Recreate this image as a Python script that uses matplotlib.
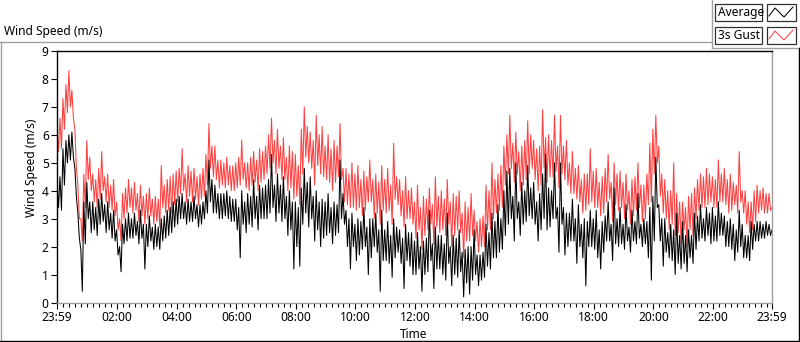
import numpy as np
import matplotlib
matplotlib.use('Agg')
import matplotlib.pyplot as plt
from matplotlib.lines import Line2D
from matplotlib.patches import Rectangle

plt.rcParams['font.family'] = ['Noto Sans', 'DejaVu Sans']

# readings per 6-minute slot from 23:59: top and bottom of each swing
gust_hi = [
    6.3, 6.6, 7.3, 7.8, 8.3, 7.6, 6.2, 4.2, 3.0, 4.6,
    5.8, 5.2, 4.6, 4.4, 4.8, 5.4, 4.5, 4.6, 4.2, 4.4,
    3.6, 3.0, 3.9, 4.1, 4.4, 4.1, 4.3, 3.9, 4.2, 3.8,
    3.9, 4.1, 3.7, 3.8, 3.7, 4.9, 4.2, 4.4, 4.5, 4.6,
    4.7, 4.8, 5.5, 4.6, 4.9, 4.7, 4.8, 4.5, 4.6, 4.8,
    5.3, 6.4, 5.6, 5.6, 5.1, 5.1, 5.0, 5.2, 4.9, 4.9,
    5.0, 5.2, 5.8, 5.0, 5.0, 5.2, 5.4, 5.1, 5.5, 5.4,
    5.6, 6.0, 6.6, 5.8, 6.2, 5.6, 5.9, 5.2, 5.6, 5.4,
    5.3, 4.9, 6.2, 7.0, 6.3, 6.1, 5.8, 6.7, 6.0, 6.3,
    5.6, 6.0, 5.5, 5.8, 5.6, 6.4, 4.8, 4.8, 4.6, 5.0,
    4.6, 4.9, 4.4, 4.7, 4.5, 5.1, 4.4, 4.6, 4.3, 4.9,
    4.4, 4.8, 4.2, 5.7, 4.5, 4.4, 4.0, 4.5, 4.0, 4.1,
    3.6, 4.2, 3.4, 3.8, 3.7, 4.1, 3.5, 4.5, 3.8, 4.0,
    3.7, 4.4, 3.6, 3.9, 3.8, 4.0, 3.2, 3.6, 3.4, 3.9,
    3.3, 2.9, 3.0, 3.1, 4.2, 4.0, 5.0, 4.4, 4.6, 4.9,
    5.6, 6.0, 6.7, 5.7, 6.1, 5.4, 5.6, 5.8, 6.5, 6.0,
    5.8, 5.5, 5.6, 6.9, 5.9, 6.0, 5.8, 6.7, 5.6, 6.7,
    5.6, 5.8, 5.0, 5.4, 4.8, 4.9, 4.4, 4.6, 4.6, 5.5,
    4.7, 4.8, 4.3, 4.5, 4.8, 5.3, 4.3, 5.0, 4.6, 4.7,
    4.3, 4.6, 4.0, 4.4, 4.5, 5.0, 4.2, 4.2, 4.6, 5.7,
    6.2, 6.7, 5.6, 4.6, 4.4, 4.0, 4.0, 5.0, 3.9, 3.6,
    3.6, 3.4, 3.8, 3.9, 4.1, 4.4, 4.6, 4.5, 4.8, 4.6,
    4.5, 4.4, 5.1, 4.6, 4.8, 4.4, 4.6, 4.3, 4.2, 5.4,
    4.0, 4.0, 3.6, 3.6, 4.0, 4.2, 4.0, 4.1, 3.9, 3.9,
]
gust_lo = [
    5.4, 5.5, 6.2, 6.8, 7.0, 6.6, 4.8, 3.0, 2.2, 3.4,
    4.4, 4.0, 3.6, 3.4, 3.7, 4.0, 3.6, 3.4, 3.3, 3.1,
    2.6, 2.2, 3.0, 3.2, 3.4, 3.2, 3.3, 2.9, 3.1, 2.8,
    3.0, 3.1, 2.8, 2.9, 2.7, 3.4, 3.2, 3.3, 3.2, 3.5,
    3.6, 3.9, 4.0, 3.6, 3.8, 3.6, 3.7, 3.5, 3.7, 3.8,
    4.2, 4.8, 4.5, 4.4, 4.1, 4.2, 4.1, 4.2, 4.0, 4.0,
    4.1, 4.2, 4.4, 4.1, 4.0, 4.2, 4.3, 4.0, 4.3, 4.4,
    4.6, 4.8, 5.0, 4.6, 4.8, 4.4, 4.4, 4.0, 4.1, 3.7,
    3.8, 3.5, 4.6, 5.2, 5.0, 4.8, 4.2, 4.9, 4.6, 4.5,
    4.4, 4.3, 4.0, 4.3, 4.5, 4.4, 3.6, 3.5, 3.4, 3.4,
    3.3, 3.4, 3.1, 3.3, 3.6, 3.6, 3.0, 3.2, 2.8, 3.3,
    3.2, 3.3, 2.8, 3.7, 3.5, 3.1, 2.7, 3.0, 3.0, 2.8,
    2.3, 2.6, 1.9, 2.4, 2.6, 2.8, 2.1, 2.7, 2.5, 2.6,
    2.4, 2.8, 2.0, 2.4, 2.6, 2.5, 1.6, 2.2, 2.2, 2.4,
    2.2, 1.8, 2.0, 2.0, 2.6, 2.6, 3.0, 3.2, 3.3, 3.4,
    4.2, 4.6, 4.8, 4.3, 4.6, 4.0, 4.2, 4.4, 4.6, 4.8,
    4.4, 4.0, 4.2, 4.8, 4.3, 4.5, 4.5, 4.7, 4.1, 4.6,
    4.4, 4.2, 3.9, 3.9, 3.7, 3.6, 3.2, 3.3, 3.5, 3.6,
    3.4, 3.4, 3.1, 3.2, 3.6, 3.7, 2.9, 3.5, 3.3, 3.4,
    3.0, 3.3, 2.8, 3.1, 3.3, 3.4, 2.9, 3.0, 3.5, 3.6,
    4.6, 5.0, 3.8, 3.2, 3.0, 2.6, 2.8, 2.4, 2.5, 2.1,
    2.6, 2.0, 2.6, 2.4, 3.0, 3.3, 3.4, 3.4, 3.5, 3.6,
    3.4, 3.4, 3.6, 3.6, 3.5, 3.2, 3.3, 3.5, 3.2, 3.6,
    3.2, 2.8, 2.5, 2.6, 2.9, 3.2, 3.3, 3.2, 3.2, 3.3,
]
avg_hi = [
    4.4, 4.5, 5.5, 5.8, 6.0, 6.1, 4.8, 3.2, 1.9, 3.6,
    4.3, 3.6, 3.6, 3.4, 3.7, 3.9, 3.5, 3.6, 3.2, 3.3,
    2.6, 2.0, 2.8, 3.0, 3.2, 3.0, 3.2, 2.9, 3.3, 2.8,
    2.8, 3.1, 2.7, 2.8, 2.7, 3.0, 3.1, 3.3, 3.4, 3.6,
    3.7, 3.8, 3.9, 3.6, 3.7, 3.6, 3.8, 3.5, 3.5, 3.6,
    4.0, 5.1, 4.4, 4.2, 3.9, 3.9, 3.9, 4.0, 3.8, 3.7,
    3.7, 3.4, 4.0, 3.6, 3.9, 3.8, 4.4, 3.8, 4.2, 4.1,
    4.2, 4.4, 5.3, 4.2, 4.6, 4.2, 4.5, 3.8, 4.0, 3.6,
    3.6, 3.4, 4.1, 4.8, 4.3, 4.5, 3.8, 4.0, 3.6, 3.7,
    3.6, 3.9, 3.4, 3.6, 3.5, 5.1, 3.9, 3.3, 3.0, 3.2,
    2.8, 3.0, 2.9, 3.4, 2.7, 3.0, 3.0, 3.2, 2.6, 3.3,
    2.6, 2.9, 2.4, 3.0, 2.7, 2.6, 2.3, 2.8, 2.5, 2.5,
    2.2, 2.5, 2.0, 2.2, 2.3, 3.3, 2.1, 2.7, 2.4, 2.4,
    2.1, 3.2, 2.0, 2.4, 2.3, 2.6, 1.8, 1.9, 2.0, 2.0,
    2.6, 1.7, 1.7, 1.8, 2.8, 2.5, 3.2, 2.9, 3.5, 3.0,
    4.0, 4.7, 4.8, 3.8, 5.0, 3.6, 4.3, 4.0, 4.9, 4.1,
    4.3, 3.6, 3.9, 4.6, 5.3, 4.1, 4.0, 5.0, 3.4, 5.0,
    3.4, 3.2, 3.2, 3.7, 3.0, 3.5, 2.8, 3.0, 2.9, 3.3,
    3.0, 3.3, 2.6, 2.9, 3.1, 3.6, 2.8, 4.1, 3.0, 3.4,
    2.8, 3.5, 2.7, 3.3, 2.9, 3.9, 2.8, 3.0, 2.9, 3.4,
    3.8, 5.2, 3.5, 3.0, 3.0, 2.5, 2.8, 2.6, 3.2, 2.4,
    2.9, 2.4, 2.6, 2.4, 3.2, 3.1, 3.5, 3.0, 3.4, 3.2,
    3.4, 3.1, 3.6, 3.2, 3.1, 2.9, 3.0, 2.8, 2.6, 3.3,
    2.8, 2.4, 2.4, 2.9, 2.8, 2.9, 2.9, 2.8, 2.9, 2.8,
]
avg_lo = [
    3.4, 3.3, 4.2, 5.0, 5.1, 5.2, 3.8, 2.3, 0.4, 2.1,
    3.0, 2.5, 2.6, 2.4, 2.8, 2.9, 2.5, 2.6, 2.3, 2.2,
    1.7, 1.1, 2.1, 2.2, 2.3, 2.3, 2.4, 2.1, 2.3, 1.2,
    2.0, 2.2, 1.9, 2.0, 1.9, 2.2, 2.3, 2.4, 2.5, 2.7,
    2.8, 3.0, 3.0, 2.8, 2.9, 2.9, 3.0, 2.7, 2.8, 3.0,
    3.2, 3.6, 3.2, 3.2, 3.0, 3.0, 3.1, 3.0, 2.9, 2.9,
    2.6, 1.6, 2.8, 2.5, 2.8, 2.7, 3.0, 2.6, 3.0, 3.0,
    3.0, 3.2, 3.4, 2.9, 3.2, 2.9, 3.0, 2.4, 2.6, 1.2,
    2.0, 1.3, 2.8, 3.2, 2.7, 3.0, 2.2, 2.6, 2.0, 2.3,
    2.4, 2.5, 2.1, 2.4, 2.5, 3.0, 2.8, 2.0, 1.2, 2.0,
    1.5, 1.7, 1.9, 2.0, 1.0, 1.6, 2.0, 1.8, 0.4, 1.5,
    1.5, 1.4, 0.9, 1.6, 1.8, 1.4, 0.5, 1.5, 1.3, 1.0,
    1.0, 1.2, 0.4, 1.0, 1.1, 1.5, 0.5, 1.2, 1.2, 1.0,
    0.8, 1.4, 0.6, 1.0, 0.9, 1.1, 0.2, 0.7, 0.3, 0.8,
    1.0, 0.6, 0.8, 0.9, 1.3, 1.2, 1.6, 1.6, 1.8, 1.9,
    2.4, 2.8, 3.0, 2.2, 3.0, 2.4, 2.8, 2.9, 3.1, 3.0,
    2.8, 2.2, 2.6, 3.0, 2.6, 2.7, 3.0, 3.0, 1.8, 2.8,
    1.7, 2.0, 2.2, 2.2, 1.4, 2.0, 1.6, 0.6, 2.0, 2.0,
    1.9, 1.6, 1.2, 1.8, 2.2, 2.2, 1.5, 2.1, 2.0, 2.1,
    1.9, 2.2, 1.8, 2.2, 2.1, 2.3, 2.0, 2.1, 1.6, 0.8,
    2.2, 3.4, 2.2, 1.3, 1.8, 1.6, 1.5, 1.0, 1.4, 1.2,
    1.4, 1.1, 1.6, 1.4, 1.9, 2.2, 2.3, 2.2, 2.4, 2.1,
    2.2, 2.2, 2.4, 2.4, 2.0, 2.0, 1.9, 1.5, 1.8, 2.0,
    1.6, 1.6, 1.5, 1.9, 2.2, 2.2, 2.3, 2.3, 2.4, 2.4,
]
gust_end = 3.4
avg_end = 2.6

tick_pos = [0] + [1 + 120 * k for k in range(1, 12)] + [1440]
tick_labels = ['23:59', '02:00', '04:00', '06:00', '08:00', '10:00', '12:00',
               '14:00', '16:00', '18:00', '20:00', '22:00', '23:59']
minor_pos = [1 + 12 * k for k in range(1, 120) if k % 10 != 0]

# samples every 3 minutes: top of swing, then bottom
minutes = np.append(np.arange(2 * len(gust_hi)) * 3, 1440)
gust = np.append(np.column_stack([gust_hi, gust_lo]).ravel(), gust_end)
average = np.append(np.column_stack([avg_hi, avg_lo]).ravel(), avg_end)

W, H = 800, 342
fig = plt.figure(figsize=(W / 100, H / 100), dpi=100)
fig.patch.set_facecolor('white')

def fx(x):
    return x / W

def fy(y):
    return 1 - y / H

ax = fig.add_axes([fx(57), fy(302.5), (772 - 57) / W, (302.5 - 51) / H])
ax.plot(minutes, gust, color='#ff4040', lw=0.75)
ax.plot(minutes, average, color='black', lw=0.75)
ax.set_xlim(0, 1440)
ax.set_ylim(0, 9)
ax.set_yticks(range(10))
ax.set_xticks(tick_pos)
ax.set_xticklabels(tick_labels)
ax.set_xticks(minor_pos, minor=True)
ax.tick_params(axis='both', which='major', labelsize=8.6, length=4, width=0.8,
               direction='out', pad=2, color='black')
ax.tick_params(axis='x', which='minor', length=3, width=0.8, color='black')
ax.spines['top'].set_color('black')
ax.spines['left'].set_color('black')
ax.spines['bottom'].set_color('#a0a0a0')
ax.spines['right'].set_color('#a0a0a0')
for s in ax.spines.values():
    s.set_linewidth(1.0)

fig.text(fx(32), fy(168), 'Wind Speed (m/s)', rotation=90, ha='center', va='center', fontsize=8.6)
fig.text(fx(414), fy(334), 'Time', ha='center', va='center', fontsize=8.6)
fig.text(fx(4), fy(32), 'Wind Speed (m/s)', ha='left', va='center', fontsize=8.6)

# panel frame
gray = '#a0a0a0'
frame = [
    ((0, 42), (712, 42), gray),
    ((1, 42), (1, 341), gray),
    ((712, 0), (712, 48), gray),
    ((712, 48), (800, 48), gray),
    ((799, 48), (799, 341), 'black'),
    ((0, 341), (800, 341), 'black'),
]
for (x0, y0), (x1, y1), c in frame:
    fig.add_artist(Line2D([fx(x0), fx(x1)], [fy(y0), fy(y1)], color=c, lw=1.0,
                          transform=fig.transFigure))

# legend
for i, (name, col) in enumerate([('Average', 'black'), ('3s Gust', '#ff4040')]):
    top = 4 + 23 * i
    fig.add_artist(Rectangle((fx(715), fy(top + 17)), 47 / W, 17 / H, transform=fig.transFigure,
                             facecolor='white', edgecolor='#303030', lw=0.9))
    fig.add_artist(Rectangle((fx(767), fy(top + 17)), 29 / W, 17 / H, transform=fig.transFigure,
                             facecolor='white', edgecolor='#303030', lw=0.9))
    fig.text(fx(718), fy(top + 8.5), name, ha='left', va='center', fontsize=8.6)
    xs = [769, 775, 784, 793]
    ys = [top + 12, top + 4, top + 13, top + 3]
    fig.add_artist(Line2D([fx(v) for v in xs], [fy(v) for v in ys], color=col, lw=0.75,
                          transform=fig.transFigure))

fig.savefig('out.png', dpi=100)
